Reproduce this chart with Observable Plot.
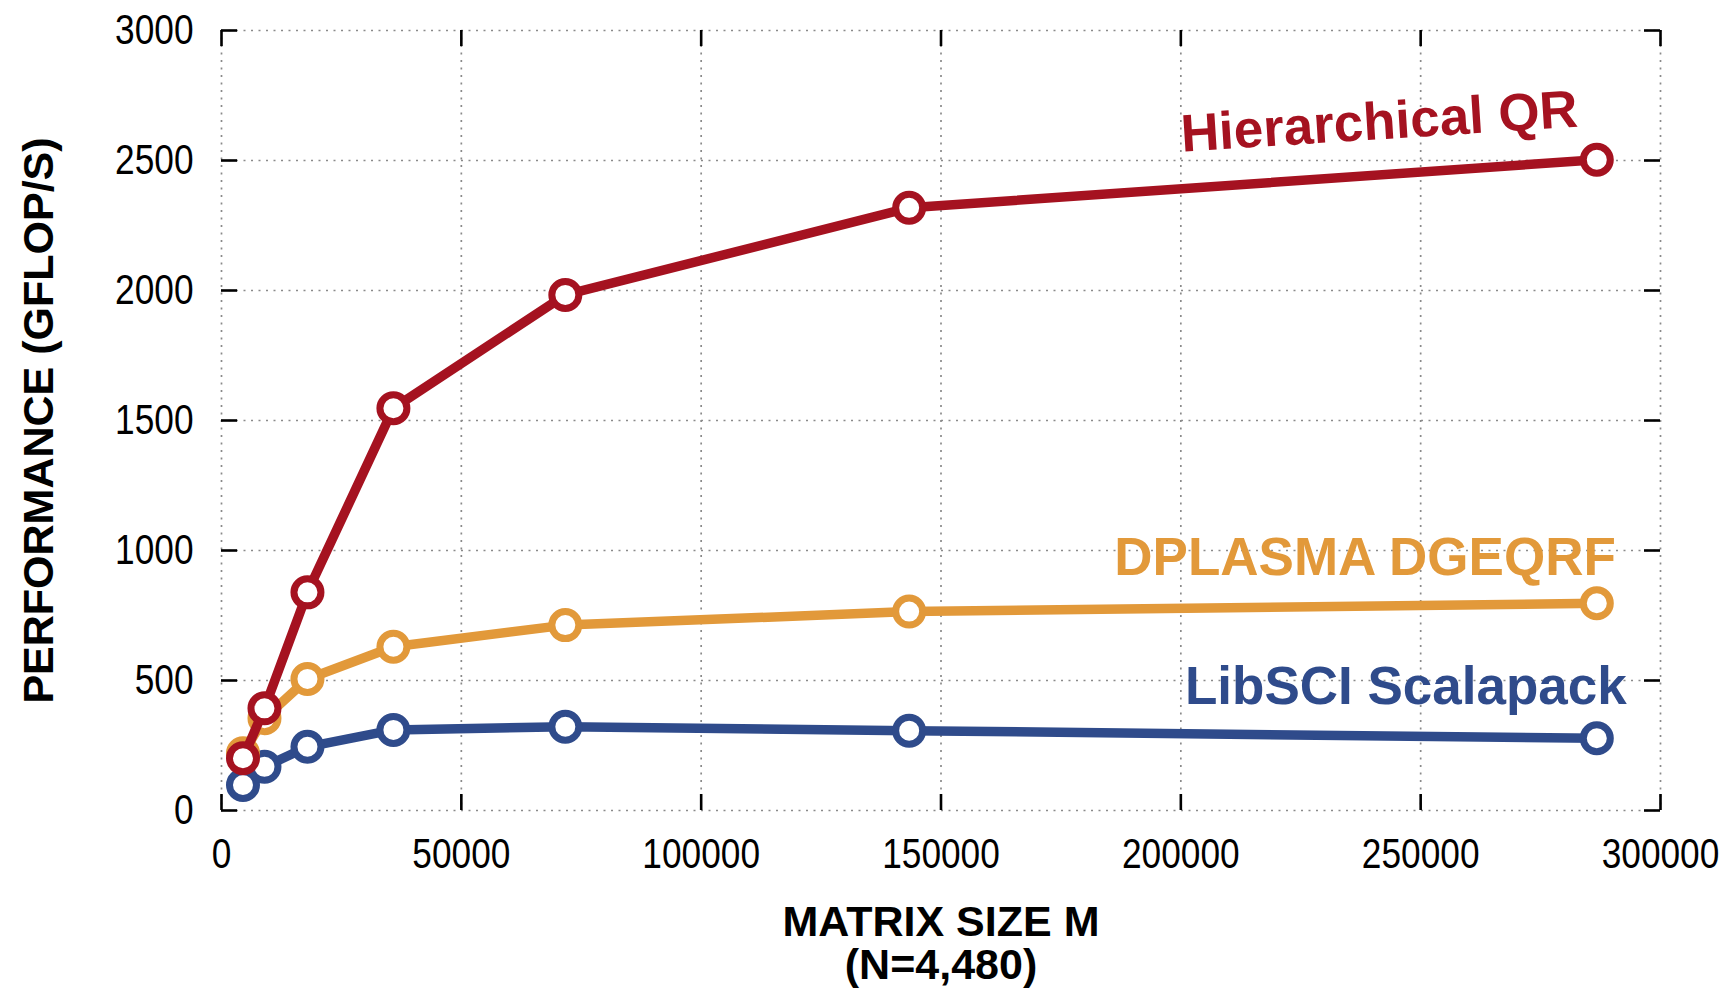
<!DOCTYPE html>
<html>
<head>
<meta charset="utf-8">
<script src="https://cdn.jsdelivr.net/npm/d3@7"></script>
<script src="https://cdn.jsdelivr.net/npm/@observablehq/plot@0.6"></script>
<style>
  html, body { margin: 0; padding: 0; background: #ffffff; }
  #chart svg { display: block; }
</style>
</head>
<body>
<div id="chart"></div>
<script>
// ---- Data ----
const sizes = [4480, 8960, 17920, 35840, 71680, 143360, 286720];
const hierarchicalQR = [201, 393, 839, 1547, 1983, 2318, 2503];
const dplasmaDGEQRF = [220, 355, 506, 630, 713, 765, 797];
const libsciScalapack = [98, 168, 245, 310, 322, 307, 278];

const seriesNames = ["LibSCI Scalapack", "DPLASMA DGEQRF", "Hierarchical QR"];
const seriesValues = [libsciScalapack, dplasmaDGEQRF, hierarchicalQR];

const xTicks = [0, 50000, 100000, 150000, 200000, 250000, 300000];
const yTicks = [0, 500, 1000, 1500, 2000, 2500, 3000];
const xLabel = "MATRIX SIZE M\n(N=4,480)";
const yLabel = "PERFORMANCE (GFLOP/S)";

// ---- Styles ----
const colors = {
  "LibSCI Scalapack": "#2f4b8b",
  "DPLASMA DGEQRF": "#e2993a",
  "Hierarchical QR": "#a51220"
};
// label offsets relative to each series' last point (pixels) and rotation
const labelStyle = {
  "LibSCI Scalapack": {dx: 30, dy: -34, rotate: 0},
  "DPLASMA DGEQRF": {dx: 19, dy: -28, rotate: 0},
  "Hierarchical QR": {dx: -18, dy: -33, rotate: -3.6}
};

const width = 1733, height = 988;
const marginLeft = 221, marginRight = 73, marginTop = 30, marginBottom = 178;
const W = width - marginLeft - marginRight;
const H = height - marginTop - marginBottom;
const tickLen = 16;

const tables = seriesNames.map((name, k) =>
  sizes.map((m, i) => ({series: name, m, v: seriesValues[k][i]}))
);

const boldFont = "'Liberation Sans', Arial, Helvetica, sans-serif";
const tickFont = "'Liberation Sans', Arial, Helvetica, sans-serif";

const gridStyle = {stroke: "#8a8a8a", strokeOpacity: 1, strokeWidth: 1.7, strokeDasharray: "2,5.5"};

const marks = [
  Plot.gridX(xTicks, gridStyle),
  Plot.gridY(yTicks, gridStyle),
  // inward tick marks on all four sides
  Plot.ruleY(yTicks, {y: d => d, insetRight: W - tickLen, stroke: "#000", strokeWidth: 2.6}),
  Plot.ruleY(yTicks, {y: d => d, insetLeft: W - tickLen, stroke: "#000", strokeWidth: 2.6}),
  Plot.ruleX(xTicks, {x: d => d, insetTop: H - tickLen, stroke: "#000", strokeWidth: 2.6}),
  Plot.ruleX(xTicks, {x: d => d, insetBottom: H - tickLen, stroke: "#000", strokeWidth: 2.6}),
  Plot.axisX(xTicks, {tickSize: 0, tickPadding: 27, tickFormat: d => String(d), label: null,
    fontSize: 43, fontFamily: tickFont, fill: "#000"}),
  Plot.axisY(yTicks, {tickSize: 0, tickPadding: 28, tickFormat: d => String(d), label: null,
    fontSize: 43, fontFamily: tickFont, fill: "#000"})
];

tables.forEach(rows => {
  const name = rows[0].series;
  const c = colors[name];
  marks.push(
    Plot.line(rows, {x: "m", y: "v", stroke: c, strokeWidth: 9.5, strokeLinejoin: "round", strokeLinecap: "round"}),
    Plot.dot(rows, {x: "m", y: "v", r: 13.5, stroke: c, strokeWidth: 7, fill: "#ffffff"})
  );
});

tables.forEach(rows => {
  const name = rows[0].series;
  const s = labelStyle[name];
  marks.push(
    Plot.text([rows[rows.length - 1]], {
      x: "m", y: "v", text: d => d.series,
      textAnchor: "end", lineAnchor: "bottom",
      dx: s.dx, dy: s.dy, rotate: s.rotate,
      fill: colors[name], fontSize: 53, fontWeight: "bold", fontFamily: boldFont
    })
  );
});

// axis titles
marks.push(
  Plot.text([yLabel], {
    text: d => d, frameAnchor: "left", rotate: -90, dx: -182,
    textAnchor: "middle", lineAnchor: "middle",
    fontSize: 43, fontWeight: "bold", fontFamily: boldFont, fill: "#000"
  }),
  Plot.text([xLabel], {
    text: d => d, frameAnchor: "bottom", dy: 94.5,
    textAnchor: "middle", lineAnchor: "top", lineHeight: 1,
    fontSize: 43, fontWeight: "bold", fontFamily: boldFont, fill: "#000"
  })
);

const chart = Plot.plot({
  width, height,
  marginLeft, marginRight, marginTop, marginBottom,
  style: {background: "#ffffff", fontFamily: boldFont, overflow: "visible"},
  x: {domain: [0, 300000], ticks: xTicks, label: null},
  y: {domain: [0, 3000], ticks: yTicks, label: null},
  marks
});

// condense tick labels horizontally (the reference uses a narrow face)
chart.querySelectorAll('g[aria-label="x-axis tick label"] text, g[aria-label="y-axis tick label"] text')
  .forEach(t => {
    const tr = t.getAttribute("transform") || "";
    t.setAttribute("transform", tr + " scale(0.82,1)");
  });

document.getElementById("chart").appendChild(chart);
</script>
</body>
</html>
